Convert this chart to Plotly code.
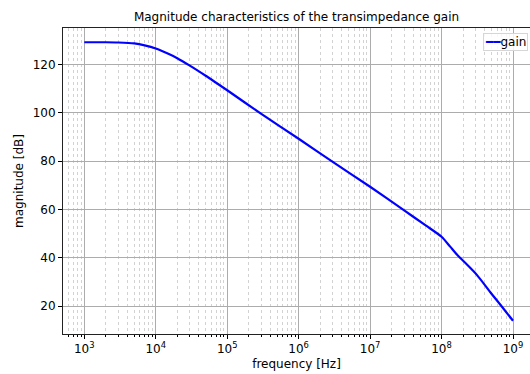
import plotly.graph_objects as go

# data
freq_hz = [1e3, 2e3, 3e3, 5e3, 7e3, 1e4, 1.5e4, 2e4, 3e4, 5e4, 7e4, 1e5,
           3e5, 1e6, 3e6, 1e7, 3e7, 6e7, 1e8, 1.32e8, 1.7e8, 2.3e8, 3.1e8,
           5e8, 7.1e8, 1e9]
gain_db = [129.3, 129.3, 129.2, 128.8, 128.0, 126.7, 124.5, 122.7, 119.6, 115.4,
           112.5, 109.4, 99.6, 89.3, 79.7, 69.4, 59.6, 53.4, 48.7, 44.6,
           40.8, 37.0, 33.0, 25.1, 19.5, 13.9]

y_ticks = [20, 40, 60, 80, 100, 120]
x_major = [1e3, 1e4, 1e5, 1e6, 1e7, 1e8, 1e9]
x_major_text = ["10<sup>3</sup>", "10<sup>4</sup>", "10<sup>5</sup>", "10<sup>6</sup>",
                "10<sup>7</sup>", "10<sup>8</sup>", "10<sup>9</sup>"]
x_minor = [m * 10 ** e for e in range(2, 10) for m in range(2, 10)]

FONT = "DejaVu Sans"

fig = go.Figure()
fig.add_trace(go.Scatter(x=freq_hz, y=gain_db, mode="lines", name="gain",
                         line=dict(color="#0000ff", width=2.2, shape="spline",
                                   smoothing=0.7),
                         showlegend=False))

fig.update_layout(
    width=530, height=374,
    margin=dict(l=63, r=0, t=28, b=40),
    paper_bgcolor="white", plot_bgcolor="white",
    font=dict(family=FONT, size=12, color="#000000"),
    title=dict(text="Magnitude characteristics of the transimpedance gain",
               x=0.5, xref="paper", y=1 - 17 / 374, yref="container",
               xanchor="center", yanchor="middle",
               font=dict(family=FONT, size=12, color="#000000")),
    annotations=[dict(
        text="<span style='color:#0000ff'>━━</span>gain",
        xref="paper", yref="paper", x=0.995, y=0.985,
        xanchor="right", yanchor="top", showarrow=False,
        font=dict(family=FONT, size=12, color="#000000"),
        bgcolor="rgba(255,255,255,0.85)", bordercolor="#d6d6d6",
        borderwidth=1, borderpad=1)],
)

fig.update_xaxes(
    type="log", range=[2.7019, 9.2379],
    tickmode="array", tickvals=x_major, ticktext=x_major_text,
    ticks="outside", ticklen=4, tickcolor="#000000", tickwidth=1,
    showline=True, linecolor="#222222", linewidth=1, mirror=True,
    showgrid=True, gridcolor="#acacac", gridwidth=1.2,
    zeroline=False,
    minor=dict(tickmode="array", tickvals=x_minor, ticks="outside", ticklen=2,
               tickcolor="#000000", showgrid=True, gridcolor="#d2d2d2",
               griddash="dot", gridwidth=1),
    title=dict(text="frequency [Hz]", standoff=4,
               font=dict(family=FONT, size=12, color="#000000")),
)
fig.update_yaxes(
    range=[8.4, 135.2],
    tickmode="array", tickvals=y_ticks,
    ticks="outside", ticklen=4, tickcolor="#000000", tickwidth=1,
    showline=True, linecolor="#222222", linewidth=1, mirror=False,
    showgrid=True, gridcolor="#acacac", gridwidth=1.2,
    zeroline=False,
    title=dict(text="magnitude [dB]", standoff=6,
               font=dict(family=FONT, size=12, color="#000000")),
)

fig.write_html("out.html")
